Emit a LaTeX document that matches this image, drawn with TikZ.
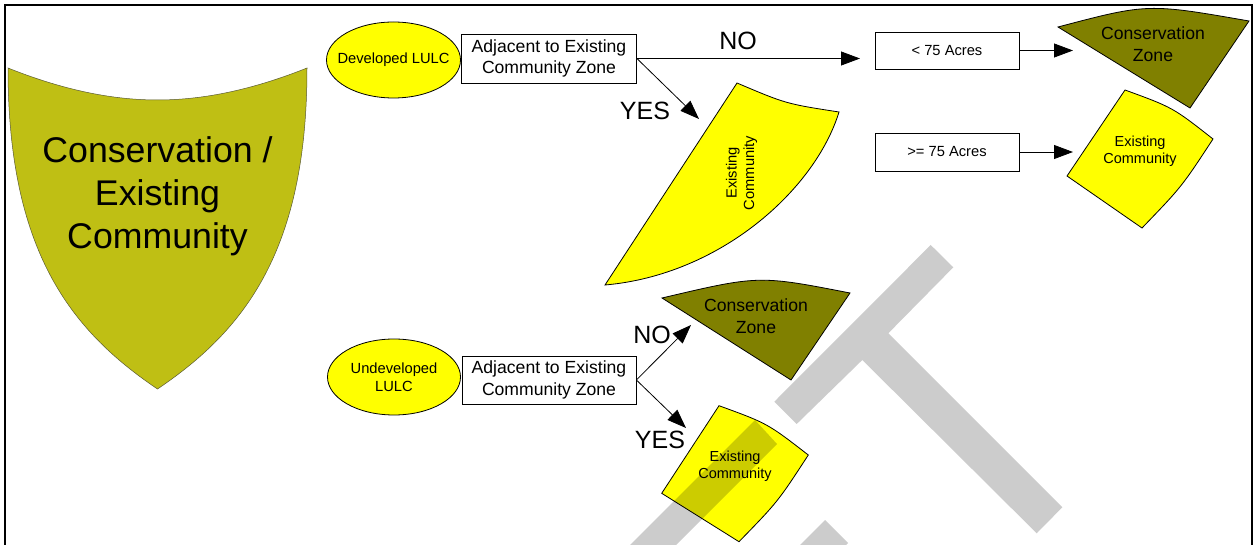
\documentclass[tikz,border=0pt]{standalone}
\usepackage{fontspec}
\setmainfont{Liberation Sans}
\usetikzlibrary{arrows.meta,shapes.geometric}
\definecolor{shieldc}{RGB}{191,191,20}
\definecolor{shieldb}{RGB}{90,90,50}
\definecolor{consc}{RGB}{128,128,0}
\definecolor{yel}{RGB}{255,255,0}
\tikzset{
  lbl/.style={font=\fontsize{25}{28}\selectfont, inner sep=0pt},
  box/.style={draw, line width=0.8pt, fill=white, align=center, inner sep=0pt},
  oval/.style={ellipse, draw, fill=yel, line width=0.8pt, align=center, inner ysep=0pt, inner xsep=-9pt, font=\fontsize{14.7}{18}\selectfont},
  arr/.style={line width=0.8pt, -{Triangle[length=19pt,width=14pt]}},
  zone/.style={draw, line width=0.8pt},
  ztxt/.style={align=center, inner sep=0pt},
  wm/.style={fill=black, fill opacity=0.2},
}
\begin{document}
\begin{tikzpicture}[x=1pt,y=-1pt]
\useasboundingbox (0,0) rectangle (1254,545);
\fill[white] (0,0) rectangle (1254,545);
\draw[line width=2.5pt] (5,545) -- (5,5) -- (1252,5) -- (1252,545);

% shield
\draw[fill=shieldc, draw=shieldb, line width=0.5pt]
  (8,68) .. controls (58,88) and (108,100) .. (157.5,100)
  .. controls (207,100) and (257,88) .. (307,68)
  .. controls (307,250) and (245,330) .. (157.5,389)
  .. controls (70,330) and (8,250) .. cycle;
\node[ztxt, font=\fontsize{35.7}{43}\selectfont] (shieldtxt) at (157.5,196) {Conservation /\\Existing\\Community};

% upper branch
\node[oval, minimum width=134pt, minimum height=76pt] (dev) at (393.5,60) {Developed LULC};
\node[box, minimum width=175pt, minimum height=49pt, font=\fontsize{17.6}{21.5}\selectfont] (adj1) at (549,58.5) {Adjacent to Existing\\Community Zone};
\node[box, minimum width=144pt, minimum height=37pt, font=\fontsize{14.7}{18}\selectfont] (acre1) at (947,50.5) {< 75 Acres};
\node[box, minimum width=144pt, minimum height=38pt, font=\fontsize{14.7}{18}\selectfont] (acre2) at (947,152) {>= 75 Acres};

% big middle existing community
\draw[zone, fill=yel] (737,83) .. controls (786,103.8) .. (839,112)
  .. controls (815,190) and (720,275) .. (605,285) -- cycle;
\node[ztxt, rotate=90, font=\fontsize{14.7}{17.5}\selectfont] (ec1) at (741.5,173) {Existing\\Community};

% top right conservation zone
\draw[zone, fill=consc] (1058,27) .. controls (1147.8,3.3) .. (1249,21) -- (1190,108) -- cycle;
\node[ztxt, font=\fontsize{17.6}{21.5}\selectfont] (cz1) at (1153,44) {Conservation\\Zone};

% right existing community
\draw[zone, fill=yel] (1125,90) .. controls (1172.9,107.5) .. (1213,139)
  .. controls (1181.7,186.8) .. (1142,228) -- (1067,176) -- cycle;
\node[ztxt, font=\fontsize{14.5}{17.3}\selectfont] (ec2) at (1140,151) {Existing\\Community};

% lower branch
\node[oval, minimum width=133pt, minimum height=76pt] (undev) at (394,377) {Undeveloped\\LULC};
\node[box, minimum width=174pt, minimum height=48pt, font=\fontsize{17.6}{21.5}\selectfont] (adj2) at (549,380) {Adjacent to Existing\\Community Zone};

\draw[zone, fill=consc] (662,298) .. controls (758.7,275.2) .. (850,293) -- (791,380) -- cycle;
\node[ztxt, font=\fontsize{17.6}{21.5}\selectfont] (cz2) at (756,316) {Conservation\\Zone};

\draw[zone, fill=yel] (719,405.7) .. controls (767.5,423.4) .. (808.3,455)
  .. controls (777.9,501.7) .. (739,541.7) -- (661.7,493.3) -- cycle;
\node[ztxt, font=\fontsize{14.5}{17.3}\selectfont] (ec3) at (735,466) {Existing\\Community};

% connectors
\coordinate (notip) at (860,58.5);
\coordinate (yes1tip) at (699,119);
\coordinate (c1tip) at (1073,50.5);
\coordinate (c2tip) at (1073,152);
\coordinate (no2tip) at (691,325);
\coordinate (yes2tip) at (686,428);
\draw[arr] (adj1.east) -- (notip);
\draw[arr] (adj1.east) -- (yes1tip);
\draw[arr] (acre1.east) -- (c1tip);
\draw[arr] (acre2.east) -- (c2tip);
\draw[arr] (adj2.east) -- (no2tip);
\draw[arr] (adj2.east) -- (yes2tip);

\node[lbl] (no1) at (738,41) {NO};
\node[lbl] (yes1) at (645,111) {YES};
\node[lbl] (no2) at (652,335) {NO};
\node[lbl] (yes2) at (660,440) {YES};

% watermark fragments
\fill[wm] (930.7,245) -- (953.3,267.3) -- (888.3,333.3) -- (1062.3,507.3)
  -- (1036.7,533.3) -- (862.3,360) -- (796.7,424) -- (774.3,401.7) -- cycle;
\fill[wm] (755,420) -- (777,444) -- (676,545) -- (630,545) -- cycle;
\fill[wm] (825,520) -- (848,543) -- (846,545) -- (800,545) -- cycle;
\end{tikzpicture}
\end{document}
